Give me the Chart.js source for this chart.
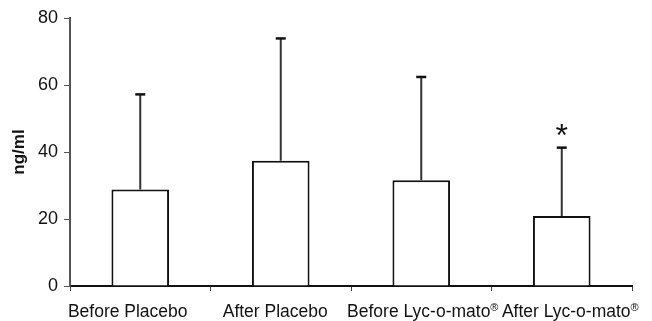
<!DOCTYPE html>
<html>
<head>
<meta charset="utf-8">
<script src="https://cdn.jsdelivr.net/npm/chart.js@4.4.1/dist/chart.umd.min.js"></script>
<style>
  html, body { margin: 0; padding: 0; background: #ffffff; }
  #wrap { width: 652px; height: 321px; position: relative; }
</style>
</head>
<body>
<div id="wrap"><canvas id="c" width="652" height="321"></canvas></div>
<script>
const categories = ['Before Placebo', 'After Placebo', 'Before Lyc-o-mato®', 'After Lyc-o-mato®'];
const meanValues = [28.8, 37.4, 31.6, 20.9];
const upperErrorValues = [57.2, 73.9, 62.4, 41.3];
const significanceMarks = ['', '', '', '*'];
const yTickValues = [0, 20, 40, 60, 80];

const FONT = '"Liberation Sans", Arial, sans-serif';

const errorBarPlugin = {
  id: 'errorBars',
  afterDatasetsDraw(chart) {
    const ctx = chart.ctx;
    const meta = chart.getDatasetMeta(0);
    const yScale = chart.scales.y;
    ctx.save();
    meta.data.forEach((bar, i) => {
      const x = bar.x;
      const yTop = yScale.getPixelForValue(upperErrorValues[i]);
      ctx.strokeStyle = '#333333';
      ctx.lineWidth = 2;
      ctx.beginPath();
      ctx.moveTo(x, bar.y);
      ctx.lineTo(x, yTop);
      ctx.stroke();
      ctx.strokeStyle = '#111111';
      ctx.lineWidth = 2.5;
      ctx.beginPath();
      ctx.moveTo(x - 5, yTop);
      ctx.lineTo(x + 5, yTop);
      ctx.stroke();
      if (significanceMarks[i]) {
        ctx.fillStyle = '#111111';
        ctx.font = '32px ' + FONT;
        ctx.textAlign = 'center';
        ctx.textBaseline = 'alphabetic';
        ctx.fillText(significanceMarks[i], x, yTop - 2);
      }
    });
    ctx.restore();
  }
};

// Category labels with a raised, smaller "®"; slightly spread as in the reference
const categoryLabelPlugin = {
  id: 'categoryLabels',
  afterDraw(chart) {
    const ctx = chart.ctx;
    const xScale = chart.scales.x;
    const area = chart.chartArea;
    const mid = (area.left + area.right) / 2;
    const baseY = xScale.top + 31;
    ctx.save();
    ctx.fillStyle = '#111111';
    ctx.textBaseline = 'alphabetic';
    ctx.textAlign = 'left';
    categories.forEach((label, i) => {
      const parts = label.split('®');
      const main = parts[0];
      const hasR = parts.length > 1;
      ctx.font = '17.5px ' + FONT;
      const wMain = ctx.measureText(main).width;
      ctx.font = '11px ' + FONT;
      const wR = hasR ? ctx.measureText('®').width : 0;
      const total = wMain + wR;
      const cx = mid + (xScale.getPixelForValue(i) - mid) * 1.05 - 2;
      let x = cx - total / 2;
      ctx.font = '17.5px ' + FONT;
      ctx.fillText(main, x, baseY);
      if (hasR) {
        ctx.font = '11px ' + FONT;
        ctx.fillText('®', x + wMain, baseY - 6);
      }
    });
    ctx.restore();
  }
};

new Chart(document.getElementById('c'), {
  type: 'bar',
  data: {
    labels: categories,
    datasets: [{
      data: meanValues,
      backgroundColor: '#ffffff',
      borderColor: '#111111',
      borderWidth: 2,
      borderSkipped: 'start',
      categoryPercentage: 1.0,
      barPercentage: 0.41
    }]
  },
  options: {
    responsive: false,
    animation: false,
    devicePixelRatio: 1,
    layout: { padding: { top: 18, right: 20, left: 0, bottom: 0 } },
    plugins: { legend: { display: false }, tooltip: { enabled: false } },
    scales: {
      x: {
        grid: { display: true, drawOnChartArea: false, drawTicks: true, tickLength: 5, tickColor: '#444444', offset: true },
        border: { display: true, color: '#111111', width: 2 },
        ticks: { display: false },
        afterFit(scale) { scale.height = 35; }
      },
      y: {
        min: 0,
        max: 80,
        afterBuildTicks(scale) { scale.ticks = yTickValues.map(v => ({ value: v })); },
        grid: { display: true, drawOnChartArea: false, drawTicks: true, tickLength: 6, tickColor: '#555555' },
        border: { display: true, color: '#555555', width: 2 },
        ticks: { color: '#111111', font: { family: FONT, size: 18 }, padding: 6 },
        title: { display: true, text: 'ng/ml', color: '#111111', font: { family: FONT, size: 17, weight: 'bold' }, padding: { top: 9, bottom: 0 } },
        afterFit(scale) { scale.width = 70; }
      }
    }
  },
  plugins: [errorBarPlugin, categoryLabelPlugin]
});
</script>
</body>
</html>
